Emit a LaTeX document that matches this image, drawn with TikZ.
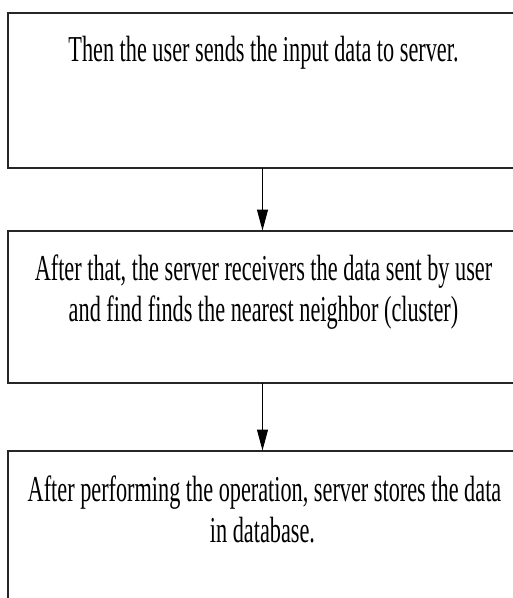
\documentclass[tikz,border=0pt]{standalone}
\usepackage{fontspec}
\setmainfont{Liberation Serif}[FakeStretch=0.61]
\usetikzlibrary{arrows.meta}

\tikzset{
  stepbox/.style={draw=black!85, line width=2pt, fill=white, rectangle,
    inner sep=0pt, outer sep=0pt, anchor=north west, minimum width=522pt},
  caption/.style={anchor=base, inner sep=0pt, text=black,
    font=\fontsize{36.5}{41}\selectfont},
  flow/.style={line width=1pt, black,
    -{Triangle[width=11pt,length=21pt]}, shorten >=0pt}
}

\begin{document}
\begin{tikzpicture}[x=1pt,y=-1pt]
  \useasboundingbox (0,0) rectangle (513,598);
  \clip (0,0) rectangle (513,598);
  \fill[white] (0,0) rectangle (513,598);

  % the three process steps
  \node[stepbox, minimum height=155pt] (b1) at (8,12.5) {};
  \node[stepbox, minimum height=152pt] (b2) at (8,230.5) {};
  \node[stepbox, minimum height=170pt] (b3) at (8,450.5) {};

  % step texts
  \node[caption] (t1)  at (263.5,61.7) {Then the user sends the input data to server.};
  \node[caption] (t2a) at (263.5,280)  {After that, the server receivers the data sent by user};
  \node[caption] (t2b) at (263.5,321)  {and find finds the nearest neighbor (cluster)};
  \node[caption] (t3a) at (264.5,501)  {After performing the operation, server stores the data};
  \node[caption] (t3b) at (262.5,542)  {in database.};

  % connectors
  \coordinate (ax) at (262.5,0);
  \draw[flow] (ax |- b1.south) -- (ax |- b2.north);
  \draw[flow] (ax |- b2.south) -- (ax |- b3.north);
\end{tikzpicture}
\end{document}
